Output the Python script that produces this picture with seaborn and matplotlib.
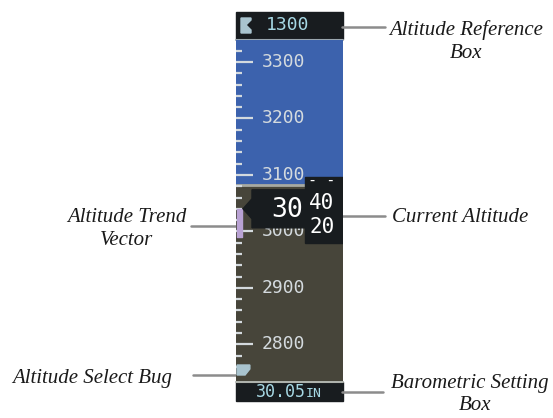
import matplotlib
matplotlib.use("Agg")
import matplotlib.pyplot as plt
import seaborn as sns

# --- DATA ---
label_alts = [3300, 3200, 3100, 3000, 2900, 2800]
minor_alts = [2760, 2780, 2820, 2840, 2860, 2880, 2920, 2940, 2960, 2980,
              3020, 3040, 3060, 3080, 3120, 3140, 3160, 3180, 3220, 3240,
              3260, 3280, 3320]
current_alt = 3040
trend_alt = 2990          # trend vector end point
horizon_alt = 3082        # sky / ground boundary behind the tape
ref_alt = "1300"
baro_value = "30.05"
baro_unit = "IN"
tape_top, tape_bottom = 3339, 2735

# --- STYLE ---
sns.set_theme(style="white")
SKY = "#3c62ad"
GROUND = "#47453a"
BOX = "#181c1f"
SCALE = "#d4dade"
CYAN = "#a6d8e4"
BUG = "#a9c4cf"
LEADER = "#8c8c8c"
MONO = "DejaVu Sans Mono"
CAPTION = dict(family="Liberation Serif", style="italic", fontsize=15, color="#1a1a1a")

W, H = 553, 418
fig = plt.figure(figsize=(W / 100, H / 100), dpi=100)
fig.patch.set_facecolor("white")


def px_axes(x0, y0, x1, y1, z):
    a = fig.add_axes([x0 / W, 1 - y1 / H, (x1 - x0) / W, (y1 - y0) / H], zorder=z)
    a.set_axis_off()
    return a


# overlay in pixel coordinates for boxes and callouts
ov = px_axes(0, 0, W, H, 1)
ov.set_xlim(0, W)
ov.set_ylim(H, 0)
ov.patch.set_alpha(0)

# altitude reference box
ov.add_patch(plt.Rectangle((236, 12), 106.5, 27, color=BOX))
ov.plot([236, 342.5], [39.5, 39.5], color="#9aa6ae", lw=1.5)
ov.fill([241, 251, 251, 246, 251, 251, 241], [18, 18, 20, 25, 30, 33, 33], color=BUG)
ov.text(288, 25.5, ref_alt, family=MONO, fontsize=13, color=CYAN, ha="center", va="center")

# barometric setting box
ov.add_patch(plt.Rectangle((236, 382), 106.5, 19, color=BOX))
ov.plot([236, 342.5], [382, 382], color="#aeb2ac", lw=1.5)
ov.text(306, 397, baro_value, family=MONO, fontsize=12, color=CYAN, ha="right", va="baseline")
ov.text(306, 397, baro_unit, family=MONO, fontsize=9.5, color=CYAN, ha="left", va="baseline")

# --- TAPE ---
tape = px_axes(236, 40, 342.5, 381, 2)
tape.axhspan(horizon_alt, tape_top, color=SKY, zorder=0)
tape.axhspan(tape_bottom, horizon_alt, color=GROUND, zorder=0)
tape.axhline(horizon_alt, color="#a8aaa2", lw=2, zorder=1)

sns.rugplot(y=minor_alts, height=0.055, ax=tape, color=SCALE, linewidth=1.6, zorder=2)
sns.rugplot(y=label_alts, height=0.16, ax=tape, color=SCALE, linewidth=1.6, zorder=2)
for alt in label_alts:
    tape.text(0.245, alt, str(alt), family=MONO, fontsize=13, color=SCALE,
              ha="left", va="center", zorder=3)

ft = (tape_top - tape_bottom) / 341  # feet per pixel on the tape

# trend vector
tape.fill_betweenx([trend_alt, current_alt], 0.008, 0.052, color="#b9a2d4", zorder=4)

# current altitude pointer and rolling drum
c = current_alt
tape.fill([0.066, 0.15, 0.15, 0.66, 0.66, 0.15, 0.15],
          [c, c + 10 * ft, c + 19 * ft, c + 19 * ft, c - 19 * ft, c - 19 * ft, c - 10 * ft],
          color=BOX, zorder=5)
tape.fill([0.645, 1.0, 1.0, 0.645], [c + 32 * ft] * 2 + [c - 34 * ft] * 2, color=BOX, zorder=5)
tape.text(0.63, c - 1 * ft, str(c // 100), family=MONO, fontsize=19, color="white",
          ha="right", va="center", zorder=6)
tens = c % 100
tape.text(0.805, c + 6 * ft, f"{tens:02d}", family=MONO, fontsize=15, color="white",
          ha="center", va="center", zorder=6)
tape.text(0.805, c - 18 * ft, f"{tens - 20:02d}", family=MONO, fontsize=15, color="white",
          ha="center", va="center", zorder=6)
tape.text(0.805, c + 28 * ft, "- -", family=MONO, fontsize=11, color="white",
          ha="center", va="center", zorder=6)

# altitude select bug pegged at the bottom of the tape
b = tape_bottom
tape.fill([0.01, 0.13, 0.13, 0.085, 0.01],
          [b + 16 * ft, b + 16 * ft, b + 12 * ft, b + 6 * ft, b + 6 * ft],
          color=BUG, zorder=4)

tape.set_xlim(0, 1)
tape.set_ylim(tape_bottom, tape_top)

# --- CALLOUTS ---
ov.plot([342, 385], [27, 27], color=LEADER, lw=1.8)
ov.text(466, 35, "Altitude Reference", ha="center", va="baseline", **CAPTION)
ov.text(466, 58, "Box", ha="center", va="baseline", **CAPTION)

ov.plot([342, 385], [216, 216], color=LEADER, lw=1.8)
ov.text(392, 222, "Current Altitude", ha="left", va="baseline", **CAPTION)

ov.plot([191, 238], [226, 226], color=LEADER, lw=1.8)
ov.text(127, 222, "Altitude Trend", ha="center", va="baseline", **CAPTION)
ov.text(127, 245, "Vector", ha="center", va="baseline", **CAPTION)

ov.plot([193, 238], [375, 375], color=LEADER, lw=1.8)
ov.text(12, 383, "Altitude Select Bug", ha="left", va="baseline", **CAPTION)

ov.plot([342, 383], [392, 392], color=LEADER, lw=1.8)
ov.text(470, 388, "Barometric Setting", ha="center", va="baseline", **CAPTION)
ov.text(475, 410, "Box", ha="center", va="baseline", **CAPTION)

fig.savefig("out.png", dpi=100)
